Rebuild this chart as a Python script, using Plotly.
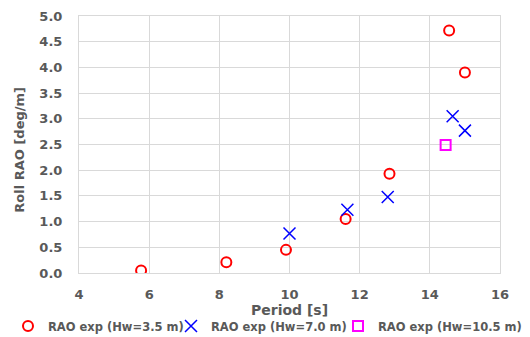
import plotly.graph_objects as go

# Data
period_35 = [5.77, 8.2, 9.9, 11.6, 12.85, 14.55, 15.0]
rao_35 = [0.05, 0.21, 0.45, 1.05, 1.93, 4.72, 3.9]

period_70 = [10.0, 11.65, 12.8, 14.65, 15.0]
rao_70 = [0.77, 1.23, 1.48, 3.05, 2.77]

period_105 = [14.45]
rao_105 = [2.49]

x_ticks = [4, 6, 8, 10, 12, 14, 16]
y_ticks = [0.0, 0.5, 1.0, 1.5, 2.0, 2.5, 3.0, 3.5, 4.0, 4.5, 5.0]

grey = "#595959"
ff = "DejaVu Sans"

W, H = 522, 329  # page body has 8px margin
L, R, T, B = 71, 30, 8, 64
pw, ph = W - L - R, H - T - B

fig = go.Figure()
fig.add_trace(go.Scatter(
    x=period_35, y=rao_35, mode="markers", name="RAO exp (Hw=3.5 m)", legend="legend",
    marker=dict(symbol="circle-open", size=10, color="#ff0000", line=dict(width=2, color="#ff0000")),
))
fig.add_trace(go.Scatter(
    x=period_70, y=rao_70, mode="markers", name="RAO exp (Hw=7.0 m)", legend="legend2",
    marker=dict(symbol="x-thin-open", size=12, color="#0000ff", line=dict(width=1.5, color="#0000ff")),
))
fig.add_trace(go.Scatter(
    x=period_105, y=rao_105, mode="markers", name="RAO exp (Hw=10.5 m)", legend="legend3",
    marker=dict(symbol="square-open", size=10, color="#ff00ff", line=dict(width=2, color="#ff00ff")),
))

leg_common = dict(
    orientation="h", xref="container", yref="container",
    xanchor="left", y=(H - 318) / H, yanchor="middle",
    font=dict(family=ff, size=11.5, color=grey, weight="bold"),
    itemwidth=30, bgcolor="rgba(0,0,0,0)",
)

fig.update_layout(
    width=W, height=H,
    margin=dict(l=L, r=R, t=T, b=B),
    paper_bgcolor="white", plot_bgcolor="white",
    font=dict(family=ff, size=13, color=grey),
    showlegend=True,
    legend=dict(x=0, **leg_common),
    legend2=dict(x=163 / W, **leg_common),
    legend3=dict(x=330 / W, **leg_common),
    xaxis=dict(
        range=[4, 16], tickvals=x_ticks, ticktext=[str(v) for v in x_ticks],
        showgrid=True, gridcolor="#d9d9d9", gridwidth=1,
        showline=True, linecolor="#d9d9d9", linewidth=1, mirror=True,
        zeroline=False, ticks="outside", ticklen=9, tickcolor="rgba(0,0,0,0)",
        automargin=False,
        tickfont=dict(family=ff, size=13, color=grey, weight="bold"),
    ),
    yaxis=dict(
        range=[0, 5], tickvals=y_ticks, ticktext=[f"{v:.1f}" for v in y_ticks],
        showgrid=True, gridcolor="#d9d9d9", gridwidth=1,
        showline=True, linecolor="#d9d9d9", linewidth=1, mirror=True,
        zeroline=False, ticks="outside", ticklen=13, tickcolor="rgba(0,0,0,0)",
        automargin=False,
        tickfont=dict(family=ff, size=13, color=grey, weight="bold"),
    ),
    annotations=[
        dict(text="Period [s]", xref="paper", yref="paper", x=0.5, y=-37 / ph,
             xanchor="center", yanchor="middle", showarrow=False,
             font=dict(family=ff, size=14, color=grey, weight="bold")),
        dict(text="Roll RAO [deg/m]", xref="paper", yref="paper", x=-59 / pw, y=0.48,
             xanchor="center", yanchor="middle", textangle=-90, showarrow=False,
             font=dict(family=ff, size=13, color=grey, weight="bold")),
    ],
)

fig.write_html("out.html")
